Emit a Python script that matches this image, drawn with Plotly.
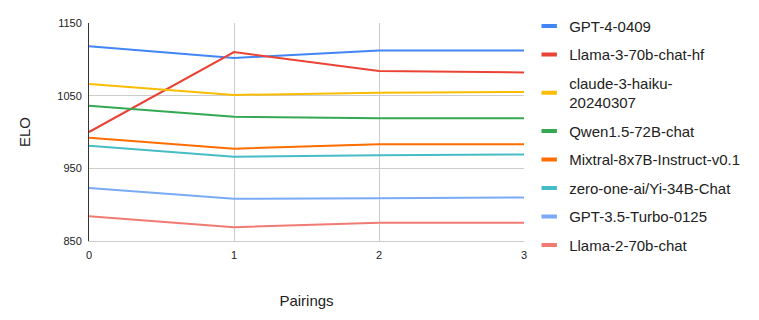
import plotly.graph_objects as go

# Pairing index on the x axis
pairings = [0, 1, 2, 3]

# ELO per model
models = [
    "GPT-4-0409",
    "Llama-3-70b-chat-hf",
    "claude-3-haiku-<br>20240307",
    "Qwen1.5-72B-chat",
    "Mixtral-8x7B-Instruct-v0.1",
    "zero-one-ai/Yi-34B-Chat",
    "GPT-3.5-Turbo-0125",
    "Llama-2-70b-chat",
]
gpt4 = [1118, 1102, 1112, 1112]
llama3 = [1000, 1110, 1084, 1082]
claude = [1066, 1051, 1054, 1055]
qwen = [1036, 1021, 1019, 1019]
mixtral = [992, 977, 983, 983]
yi = [981, 966, 968, 969]
gpt35 = [923, 908, 909, 910]
llama2 = [884, 869, 875, 875]

series = [gpt4, llama3, claude, qwen, mixtral, yi, gpt35, llama2]

colors = ["#4285F4", "#EA4335", "#FBBC04", "#34A853",
          "#FF6D01", "#46BDC6", "#7BAAF7", "#F07B72"]

fig = go.Figure()

for i, (name, vals) in enumerate(zip(models, series)):
    fig.add_trace(go.Scatter(
        x=pairings,
        y=vals,
        name=name,
        mode="lines",
        legendgroup=str(i),
        showlegend=False,
        line=dict(color=colors[i], width=2),
    ))
    # short thick swatch for the legend, like the sheets chart
    fig.add_trace(go.Scatter(
        x=[None],
        y=[None],
        name=name,
        mode="markers",
        legendgroup=str(i),
        marker=dict(symbol="line-ew", size=11, line=dict(color=colors[i], width=4)),
    ))

# page body has an 8px margin, so the figure is drawn 8px in and down
fig.update_layout(
    width=751,
    height=312,
    margin=dict(l=81, r=235, t=15, b=79),
    font=dict(family="Arial, Liberation Sans, sans-serif", size=11, color="#222222"),
    plot_bgcolor="white",
    paper_bgcolor="white",
    legend=dict(
        xref="container",
        yref="container",
        x=0.694,
        y=0.994,
        xanchor="left",
        yanchor="top",
        font=dict(size=15, color="#222222"),
        itemwidth=30,
        tracegroupgap=6,
        maxheight=1,
    ),
    showlegend=True,
)

fig.update_xaxes(
    range=[0, 3],
    tickmode="linear",
    tick0=0,
    dtick=1,
    showgrid=True,
    gridcolor="#cccccc",
    zeroline=False,
    showline=True,
    linecolor="#cccccc",
    automargin=False,
    ticklabelstandoff=4,
    title=dict(text="Pairings", font=dict(size=15), standoff=35),
)
fig.update_yaxes(
    range=[850, 1150],
    tickmode="linear",
    tick0=850,
    dtick=100,
    showgrid=True,
    gridcolor="#cccccc",
    zeroline=False,
    showline=True,
    linecolor="#333333",
    ticks="",
    automargin=False,
    ticklabelstandoff=4,
    title=dict(text="ELO", font=dict(size=15), standoff=23),
)

fig.write_html("out.html")
